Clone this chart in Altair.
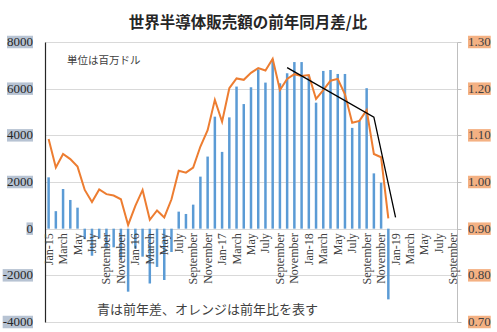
import json
import altair as alt
import pandas as pd

# ---------------- data ----------------
cats = [f"{y}-{m:02d}" for y in range(2015, 2020) for m in range(1, 13)][:57]

diff = [2200, 750, 1700, 1230, 900, -450, -1160, -420, -850, -800, -1300, -2700,
        -850, -1200, -2350, -1640, -2200, -1000, 730, 630, 1030, 2230, 3090, 4800,
        3290, 4770, 6090, 5340, 6060, 6830, 6260, 7260, 6230, 6660, 7140, 7140,
        6590, 5400, 6760, 6800, 6630, 6630, 4320, 4630, 6020, 2370, 1970, -3030]

ratio = [1.092, 1.031, 1.060, 1.049, 1.033, 0.983, 0.957, 0.984, 0.974, 0.971, 0.963, 0.908,
         0.949, 0.983, 0.919, 0.939, 0.924, 0.963, 1.024, 1.020, 1.031, 1.076, 1.111, 1.176,
         1.129, 1.201, 1.222, 1.219, 1.234, 1.244, 1.239, 1.264, 1.197, 1.221, 1.231, 1.227,
         1.229, 1.178, 1.197, 1.217, 1.221, 1.188, 1.127, 1.131, 1.154, 1.060, 1.053, 0.922]

trend_months = ["2017-10", "2018-10", "2019-01"]
trend_vals = [1.245, 1.139, 0.924]

left_ticks = [-4000, -2000, 0, 2000, 4000, 6000, 8000]
left_labels = ["-4000", "-2000", "0", "2000", "4000", "6000", "8000"]
right_ticks = [0.7, 0.8, 0.9, 1.0, 1.1, 1.2, 1.3]
right_labels = ["0.70", "0.80", "0.90", "1.00", "1.10", "1.20", "1.30"]

tick_cats = cats[::2]
tick_labels = ["Jan-15", "March", "May", "July", "September", "November",
               "Jan-16", "March", "May", "July", "September", "November",
               "Jan-17", "March", "May", "July", "September", "November",
               "Jan-18", "March", "May", "July", "September", "November",
               "Jan-19", "March", "May", "July", "September"]

title_text = "世界半導体販売額の前年同月差/比"
note_unit = "単位は百万ドル"
note_legend = "青は前年差、オレンジは前年比を表す"

# ---------------- styling ----------------
W, H = 412, 280
BLUE = "#5B9BD5"
ORANGE = "#ED7D31"
JP = "Noto Sans CJK JP"
SERIF = "Liberation Serif"
NUM_SIZE = 13
CHAR_W = {"-": 0.333, ".": 0.25}


def text_w(s):
    return sum(CHAR_W.get(c, 0.5) for c in s) * NUM_SIZE


df = pd.DataFrame({"month": cats[:len(diff)], "diff": diff, "ratio": ratio})
trend_df = pd.DataFrame({"month": trend_months, "v": trend_vals})

left_df = pd.DataFrame({"v": left_ticks, "label": left_labels})
left_df["x2"] = -12
left_df["x1"] = [-12 - text_w(s) for s in left_labels]
right_df = pd.DataFrame({"v": right_ticks, "label": right_labels})
right_df["x1"] = W + 11
right_df["x2"] = [W + 11 + text_w(s) for s in right_labels]

label_expr = f"{json.dumps(tick_labels)}[indexof({json.dumps(tick_cats)}, datum.value)]"

left_scale = alt.Scale(domain=[-4000, 8000], nice=False)
right_scale = alt.Scale(domain=[0.7, 1.3], nice=False)

x_enc = alt.X(
    "month:O",
    scale=alt.Scale(domain=cats, paddingInner=0, paddingOuter=0),
    axis=alt.Axis(
        values=tick_cats, labelExpr=label_expr, labelAngle=270,
        labelAlign="right", labelBaseline="middle", labelPadding=4,
        labelFont=SERIF, labelFontSize=12, labelColor="#404040",
        labelOverlap=False, ticks=False, domain=False, grid=False,
        offset=-H / 3, zindex=1, title=None,
    ),
)

bars = alt.Chart(df).mark_bar(width=2.5, color=BLUE).encode(
    x=x_enc,
    y=alt.Y("diff:Q", scale=left_scale,
            axis=alt.Axis(values=left_ticks, labels=False, ticks=False, grid=True,
                          gridColor="#d9d9d9", gridWidth=1, domainColor="#262626",
                          domainWidth=1.2, title=None)),
    y2=alt.datum(0),
)

line = alt.Chart(df).mark_line(color=ORANGE, strokeWidth=2).encode(
    x=alt.X("month:O"),
    y=alt.Y("ratio:Q", scale=right_scale,
            axis=alt.Axis(orient="right", values=right_ticks, labels=False, grid=False,
                          ticks=True, tickSize=4, tickColor="#bfbfbf",
                          domainColor="#bfbfbf", title=None)),
)

trend = alt.Chart(trend_df).mark_line(color="black", strokeWidth=1.3).encode(
    x=alt.X("month:O"),
    y=alt.Y("v:Q", scale=right_scale, axis=None),
)

boxes_l = alt.Chart(left_df).mark_rule(strokeWidth=12.5, color="#b7c3d3", strokeCap="butt").encode(
    x=alt.X("x1:Q", scale=None, axis=None), x2="x2:Q",
    y=alt.Y("v:Q", scale=left_scale, axis=None),
)
labels_l = alt.Chart(left_df).mark_text(align="right", baseline="middle", font=SERIF,
                                        fontSize=NUM_SIZE, color="#262626").encode(
    x=alt.value(-12), y=alt.Y("v:Q", scale=left_scale, axis=None), text="label:N",
)

boxes_r = alt.Chart(right_df).mark_rule(strokeWidth=12.5, color="#f4b183", strokeCap="butt").encode(
    x=alt.X("x1:Q", scale=None, axis=None), x2="x2:Q",
    y=alt.Y("v:Q", scale=right_scale, axis=None),
)
labels_r = alt.Chart(right_df).mark_text(align="left", baseline="middle", font=SERIF,
                                         fontSize=NUM_SIZE, color="#404040").encode(
    x=alt.value(W + 11), y=alt.Y("v:Q", scale=right_scale, axis=None), text="label:N",
)

title = alt.Chart(pd.DataFrame({"t": [title_text]})).mark_text(
    align="center", baseline="middle", font=JP, fontSize=15.5, fontWeight="bold",
    color="#262626").encode(x=alt.value(203), y=alt.value(-19.5), text="t:N")

note1 = alt.Chart(pd.DataFrame({"t": [note_unit]})).mark_text(
    align="left", baseline="middle", font=JP, fontSize=10.5, color="#404040").encode(
    x=alt.value(22), y=alt.value(18.5), text="t:N")

note2 = alt.Chart(pd.DataFrame({"t": [note_legend]})).mark_text(
    align="left", baseline="middle", font=JP, fontSize=13, color="#404040").encode(
    x=alt.value(52), y=alt.value(268), text="t:N")

chart = alt.layer(
    bars, line, trend, boxes_l, labels_l, boxes_r, labels_r, title, note1, note2
).resolve_scale(y="independent").properties(
    width=W, height=H,
    autosize=alt.AutoSizeParams(type="none"),
    padding={"left": 45, "top": 42, "right": 40, "bottom": 10},
    background="white",
).configure_view(strokeWidth=0)

chart.save("out.html", embed_options={"renderer": "svg", "actions": False})
